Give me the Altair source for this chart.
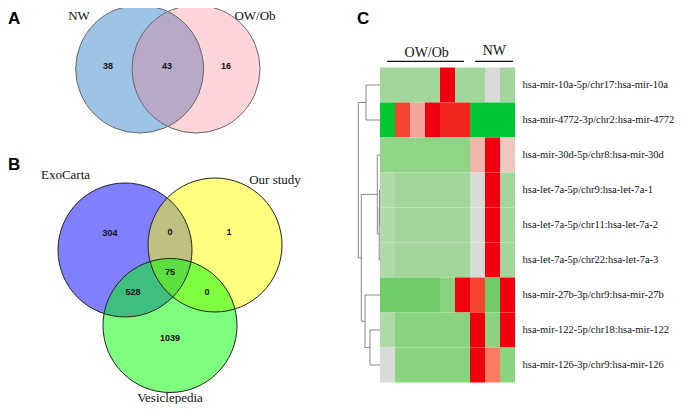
import altair as alt
import pandas as pd

# ---------------- data ----------------
# Panel A : Venn of NW vs OW/Ob
a_sets = ["NW", "OW/Ob"]
a_region_names = ["NW only", "NW & OW/Ob", "OW/Ob only"]
a_region_counts = [38, 43, 16]

# Panel B : Venn of ExoCarta, Our study, Vesiclepedia
b_sets = ["ExoCarta", "Our study", "Vesiclepedia"]
b_region_names = ["ExoCarta only", "ExoCarta & Our study", "Our study only", "all three",
                  "ExoCarta & Vesiclepedia", "Our study & Vesiclepedia", "Vesiclepedia only"]
b_region_counts = [304, 0, 1, 75, 528, 0, 1039]

# Panel C : heatmap
mirnas = [
    "hsa-mir-10a-5p/chr17:hsa-mir-10a",
    "hsa-mir-4772-3p/chr2:hsa-mir-4772",
    "hsa-mir-30d-5p/chr8:hsa-mir-30d",
    "hsa-let-7a-5p/chr9:hsa-let-7a-1",
    "hsa-let-7a-5p/chr11:hsa-let-7a-2",
    "hsa-let-7a-5p/chr22:hsa-let-7a-3",
    "hsa-mir-27b-3p/chr9:hsa-mir-27b",
    "hsa-mir-122-5p/chr18:hsa-mir-122",
    "hsa-mir-126-3p/chr9:hsa-mir-126",
]
group_names = ["OW/Ob", "NW"]
samples = ["OW/Ob 1", "OW/Ob 2", "OW/Ob 3", "OW/Ob 4", "OW/Ob 5", "OW/Ob 6", "NW 1", "NW 2", "NW 3"]
zscores = [
    [-0.35, -0.35, -0.35, -0.35, 1.00, -0.35, -0.35, 0.00, -0.35],
    [-1.00, 0.80, 0.40, 1.00, 0.85, 0.85, -1.00, -1.00, -1.00],
    [-0.45, -0.45, -0.45, -0.45, -0.45, -0.45, 0.35, 1.00, 0.25],
    [-0.25, -0.35, -0.35, -0.35, -0.35, -0.35, 0.00, 1.00, -0.35],
    [-0.25, -0.35, -0.35, -0.35, -0.35, -0.35, 0.00, 1.00, -0.35],
    [-0.25, -0.35, -0.35, -0.35, -0.35, -0.35, 0.00, 1.00, -0.35],
    [-0.70, -0.70, -0.70, -0.70, -0.50, 1.00, 0.80, -0.70, 1.00],
    [-0.25, -0.50, -0.50, -0.50, -0.50, -0.50, 1.00, -0.50, 1.00],
    [0.00, -0.50, -0.50, -0.50, -0.50, -0.50, 1.00, 0.60, -0.50],
]
# hierarchical clustering of rows: (left node, right node, merge height); leaves 0-8, merges 9..
linkage = [(0, 1, 14.0), (3, 4, 0.5), (10, 5, 0.8), (2, 11, 2.7),
           (7, 8, 10.0), (6, 13, 15.0), (12, 14, 18.7), (9, 15, 21.7)]

# ---------------- layout ----------------
PX = alt.Scale(domain=[8, 677], range=[0, 669])
PY = alt.Scale(domain=[8, 404], range=[0, 396])
SERIF = "Liberation Serif"
SANS = "Liberation Sans"

circles = pd.DataFrame({
    "set": a_sets + b_sets,
    "cx": [139.7, 196, 125, 215, 170],
    "cy": [69, 69, 250, 245, 325.5],
    "r": [64, 64, 67, 67, 67],
    "fill": ["#9DC3E6", "#FF697B", "#0000FF", "#FFFF00", "#00FF00"],
    "alpha": [1.0, 0.28, 0.5, 0.5, 0.5],
    "line": ["#666666", "#666666", "#222222", "#222222", "#222222"],
    "order": [0, 1, 2, 3, 4],
})
circles["size"] = (2 * circles["r"]) ** 2

region_text = pd.DataFrame({
    "label": [str(v) for v in a_region_counts + b_region_counts],
    "x": [108, 167, 226, 110, 170, 229, 170, 133, 207, 170],
    "y": [66, 66, 66, 233, 232, 232, 272, 292, 292, 338],
})
set_text = pd.DataFrame({
    "label": a_sets + b_sets,
    "x": [79, 255, 65.5, 275, 170],
    "y": [15.5, 15.5, 175, 180, 397.5],
})
letters = pd.DataFrame({"label": ["A", "B", "C"], "x": [8, 8, 357], "y": [24, 170, 24]})
headers = pd.DataFrame({"label": group_names, "x": [426.7, 494.3], "y": [56.5, 54.5],
                        "x1": [387, 475], "x2": [464, 513], "ly": [61.3, 61.3]})

heat = pd.DataFrame([
    {"mirna": m, "sample": s, "z": zscores[i][j]}
    for i, m in enumerate(mirnas) for j, s in enumerate(samples)
])
rows_df = pd.DataFrame({"mirna": mirnas})

# dendrogram segments from linkage
pos = {i: i + 0.5 for i in range(len(mirnas))}
hgt = {i: 0.0 for i in range(len(mirnas))}
segs = []
for k, (a, b, h) in enumerate(linkage):
    node = len(mirnas) + k
    pos[node] = (pos[a] + pos[b]) / 2
    hgt[node] = h
    segs.append({"h1": hgt[a], "h2": h, "p1": pos[a], "p2": pos[a]})
    segs.append({"h1": hgt[b], "h2": h, "p1": pos[b], "p2": pos[b]})
    segs.append({"h1": h, "h2": h, "p1": pos[a], "p2": pos[b]})
dendro = pd.DataFrame(segs)

HX = alt.Scale(domain=samples, range=[372, 507], paddingInner=0, paddingOuter=0)
HY = alt.Scale(domain=mirnas, range=[59.5, 374.5], paddingInner=0, paddingOuter=0)

# ---------------- layers ----------------
fills = alt.Chart(circles).mark_point(shape="circle", filled=True, strokeWidth=0).encode(
    x=alt.X("cx:Q", scale=PX, axis=None),
    y=alt.Y("cy:Q", scale=PY, axis=None),
    size=alt.Size("size:Q", scale=None),
    color=alt.Color("fill:N", scale=None),
    opacity=alt.Opacity("alpha:Q", scale=None),
    order="order:Q",
)
outlines = alt.Chart(circles).mark_point(shape="circle", filled=False, strokeWidth=1, opacity=1).encode(
    x=alt.X("cx:Q", scale=PX, axis=None),
    y=alt.Y("cy:Q", scale=PY, axis=None),
    size=alt.Size("size:Q", scale=None),
    color=alt.Color("line:N", scale=None),
)
nums = alt.Chart(region_text).mark_text(font=SANS, fontWeight="bold", fontSize=9, color="#111").encode(
    x=alt.X("x:Q", scale=PX, axis=None), y=alt.Y("y:Q", scale=PY, axis=None), text="label:N")
setlab = alt.Chart(set_text).mark_text(font=SERIF, fontSize=13, color="#111").encode(
    x=alt.X("x:Q", scale=PX, axis=None), y=alt.Y("y:Q", scale=PY, axis=None), text="label:N")
letter = alt.Chart(letters).mark_text(font=SANS, fontWeight="bold", fontSize=17, align="left",
                                      baseline="alphabetic", color="#000").encode(
    x=alt.X("x:Q", scale=PX, axis=None), y=alt.Y("y:Q", scale=PY, axis=None), text="label:N")
head = alt.Chart(headers).mark_text(font=SERIF, fontSize=14, baseline="alphabetic", color="#111").encode(
    x=alt.X("x:Q", scale=PX, axis=None), y=alt.Y("y:Q", scale=PY, axis=None), text="label:N")
headline = alt.Chart(headers).mark_rule(color="#111", strokeWidth=1.3).encode(
    x=alt.X("x1:Q", scale=PX, axis=None), x2="x2:Q", y=alt.Y("ly:Q", scale=PY, axis=None))

color_scale = alt.Scale(
    domain=[-1, -0.7, -0.5, -0.45, -0.35, -0.25, 0, 0.25, 0.35, 0.4, 0.6, 0.8, 0.85, 1],
    range=["#00C832", "#6ECD69", "#8AD480", "#90D488", "#A3D69A", "#B0DAA8", "#D9DBD9",
           "#ECC8C0", "#F0B6AC", "#F4A89A", "#FA7A62", "#F5452F", "#F2281E", "#F0000F"],
)
cells = alt.Chart(heat).mark_rect(strokeWidth=0).encode(
    x=alt.X("sample:N", sort=samples, scale=HX, axis=None),
    y=alt.Y("mirna:N", sort=mirnas, scale=HY, axis=None),
    color=alt.Color("z:Q", scale=color_scale, legend=None),
)
rowlab = alt.Chart(rows_df).mark_text(font=SERIF, fontSize=10.55, align="left", color="#111").encode(
    x=alt.value(514.5),
    y=alt.Y("mirna:N", sort=mirnas, scale=HY, axis=None),
    text="mirna:N",
)
tree = alt.Chart(dendro).mark_rule(color="#888888", strokeWidth=1).encode(
    x=alt.X("h1:Q", scale=alt.Scale(domain=[0, 21.7], range=[372, 350.3]), axis=None),
    x2="h2:Q",
    y=alt.Y("p1:Q", scale=alt.Scale(domain=[0, 9], range=[59.5, 374.5]), axis=None),
    y2="p2:Q",
)

chart = alt.layer(
    fills, outlines, nums, setlab, letter, head, headline, cells, rowlab, tree
).resolve_scale(
    x="independent", y="independent", color="independent"
).properties(
    width=669, height=396, padding=0,
    autosize=alt.AutoSizeParams(type="none"),
).configure_view(stroke=None)

chart.save("out.html", embed_options={"renderer": "svg", "actions": False})
